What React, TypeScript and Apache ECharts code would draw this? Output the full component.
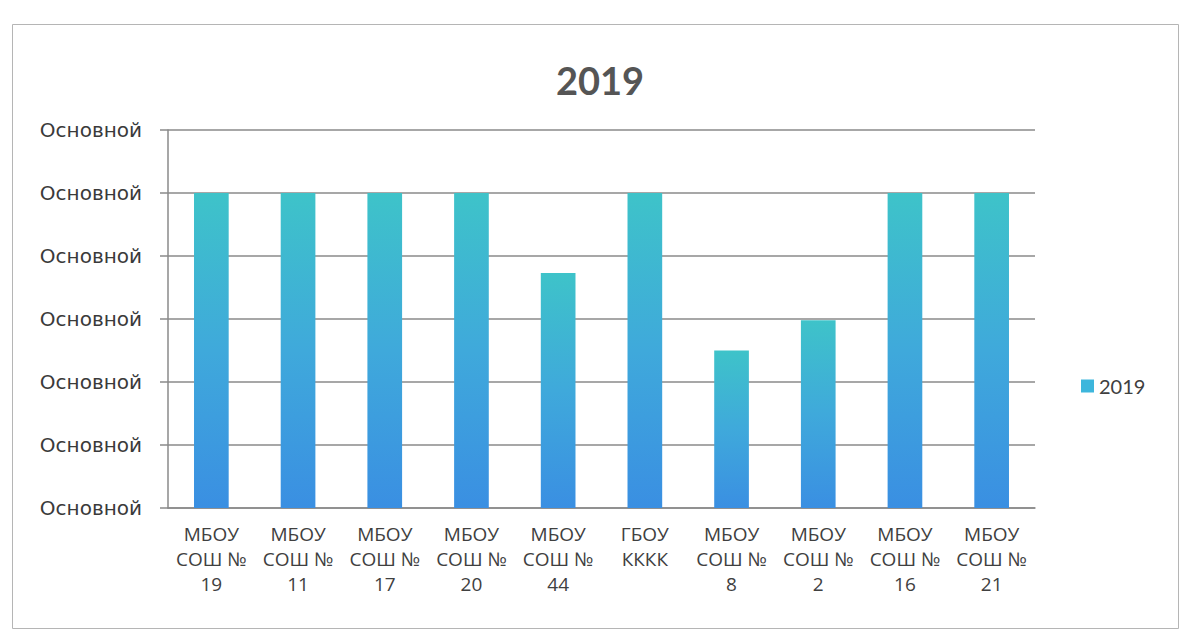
import React, { useEffect, useRef } from "react";
import * as echarts from "echarts";

const categories = [
  "МБОУ\nСОШ №\n19",
  "МБОУ\nСОШ №\n11",
  "МБОУ\nСОШ №\n17",
  "МБОУ\nСОШ №\n20",
  "МБОУ\nСОШ №\n44",
  "ГБОУ\nКККК",
  "МБОУ\nСОШ №\n8",
  "МБОУ\nСОШ №\n2",
  "МБОУ\nСОШ №\n16",
  "МБОУ\nСОШ №\n21",
];
const values2019 = [5, 5, 5, 5, 3.73, 5, 2.5, 2.98, 5, 5];
const seriesName = "2019";
const titleText = "2019";
const yTickLabel = "Основной";

export default function App() {
  const ref = useRef<HTMLDivElement>(null);
  useEffect(() => {
    if (!ref.current) return;
    const chart = echarts.init(ref.current, null, { renderer: "svg" });
    const grad = new echarts.graphic.LinearGradient(0, 0, 0, 1, [
      { offset: 0, color: "#3ec3c9" },
      { offset: 0.5, color: "#3fa9db" },
      { offset: 1, color: "#3a8fe2" },
    ]);
    chart.setOption({
      animation: false,
      backgroundColor: "#ffffff",
      title: {
        text: titleText,
        left: 595,
        top: 56,
        textAlign: "center",
        textStyle: {
          fontFamily: "Lato",
          fontSize: 38,
          fontWeight: "bold",
          color: "#555555",
        },
      },
      legend: {
        data: [seriesName],
        orient: "vertical",
        left: 1076,
        top: 371,
        itemWidth: 13,
        itemHeight: 13,
        itemGap: 6,
        icon: "rect",
        textStyle: { fontFamily: "Lato", fontSize: 20, color: "#404040" },
        itemStyle: { color: "#3db6dc" },
      },
      grid: { left: 168, right: 149, top: 130, bottom: 128 },
      xAxis: {
        type: "category",
        data: categories,
        axisLine: { show: true, lineStyle: { color: "#8a8a8a", width: 1.5 } },
        axisTick: { show: false },
        axisLabel: {
          interval: 0,
          margin: 13,
          fontFamily: "Open Sans",
          fontSize: 19,
          lineHeight: 25,
          color: "#404040",
        },
      },
      yAxis: {
        type: "value",
        min: 0,
        max: 6,
        interval: 1,
        axisLine: { show: true, lineStyle: { color: "#8a8a8a", width: 1.5 } },
        axisTick: { show: true, length: 8, lineStyle: { color: "#8a8a8a", width: 1.5 } },
        splitLine: { show: true, lineStyle: { color: "#8a8a8a", width: 1.5 } },
        axisLabel: {
          formatter: () => yTickLabel,
          margin: 26,
          fontFamily: "DejaVu Sans",
          fontSize: 20,
          color: "#3a3a3a",
        },
      },
      series: [
        {
          name: seriesName,
          type: "bar",
          data: values2019,
          barWidth: "40%",
          itemStyle: { color: grad },
        },
      ],
      graphic: [
        {
          type: "rect",
          left: 10,
          top: 22,
          shape: { width: 1166, height: 604 },
          style: { fill: "none", stroke: "#b5b5b5", lineWidth: 1 },
          silent: true,
        },
      ],
    });
    return () => chart.dispose();
  }, []);
  return (
    <div
      ref={ref}
      style={{ position: "fixed", left: 0, top: 0, width: 1184, height: 636 }}
    />
  );
}
